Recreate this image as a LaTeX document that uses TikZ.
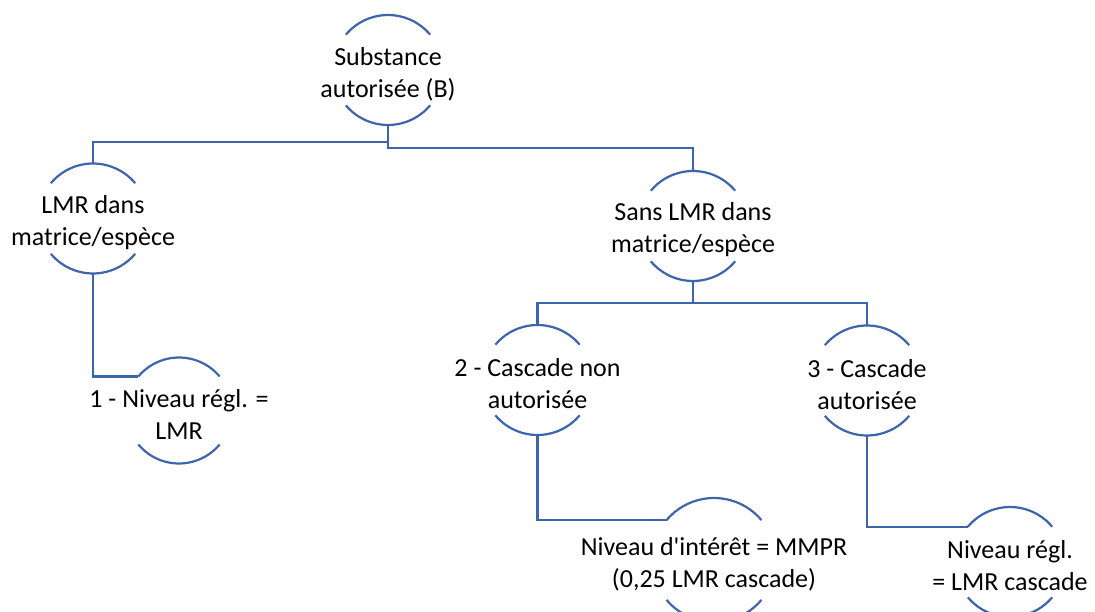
\documentclass[tikz,border=0pt]{standalone}
\usepackage{fontspec}
\setmainfont{Carlito}
\definecolor{smartblue}{RGB}{62,100,172}

\begin{document}
\begin{tikzpicture}[x=1pt,y=1pt,
  ring/.style={circle,draw=none,inner sep=0pt,outer sep=0pt,minimum size=#1},
  ring/.default=110pt,
  txt/.style={align=center,inner sep=0pt,yshift=-4pt,font=\fontsize{26}{32}\selectfont},
  rim/.style={draw=smartblue,line width=2.2pt},
  link/.style={draw=smartblue,line width=2.2pt}]
\useasboundingbox (0,0) rectangle (1095,-612);
% nodes: t-<index>L<level>
\node (t-0L0) at (388,-70) [ring, label={[txt]center:Substance\\autorisée (B)}] {};
\node (t-0L1) at (93,-218.5) [ring, label={[txt]center:LMR dans\\matrice/espèce}] {};
\node (t-1L1) at (693,-226) [ring, label={[txt]center:Sans LMR dans\\matrice/espèce}] {};
\node (t-0L2) at (179,-410.5) [ring=106pt, label={[txt]center:1 - Niveau régl. =\\LMR}] {};
\node (t-1L2) at (537.5,-380) [ring, label={[txt]center:2 - Cascade non\\autorisée}] {};
\node (t-2L2) at (867,-380.5) [ring, label={[txt]center:3 - Cascade\\autorisée}] {};
\node (t-0L3) at (714,-560) [ring=124pt, label={[txt]center:Niveau d\textquotesingle intérêt = MMPR\\(0,25 LMR cascade)}] {};
\node (t-1L3) at (1010,-562) [ring, label={[txt]center:Niveau régl.\\= LMR cascade}] {};
% arcs
\draw[rim] (t-0L0.40) arc[start angle=40,end angle=140,radius=55pt];
\draw[rim] (t-0L0.220) arc[start angle=220,end angle=320,radius=55pt];
\draw[rim] (t-0L1.40) arc[start angle=40,end angle=140,radius=55pt];
\draw[rim] (t-0L1.220) arc[start angle=220,end angle=320,radius=55pt];
\draw[rim] (t-1L1.40) arc[start angle=40,end angle=140,radius=55pt];
\draw[rim] (t-1L1.220) arc[start angle=220,end angle=320,radius=55pt];
\draw[rim] (t-0L2.40) arc[start angle=40,end angle=140,radius=53pt];
\draw[rim] (t-0L2.220) arc[start angle=220,end angle=320,radius=53pt];
\draw[rim] (t-1L2.40) arc[start angle=40,end angle=140,radius=55pt];
\draw[rim] (t-1L2.220) arc[start angle=220,end angle=320,radius=55pt];
\draw[rim] (t-2L2.40) arc[start angle=40,end angle=140,radius=55pt];
\draw[rim] (t-2L2.220) arc[start angle=220,end angle=320,radius=55pt];
\draw[rim] (t-0L3.40) arc[start angle=40,end angle=140,radius=62pt];
\draw[rim] (t-0L3.220) arc[start angle=220,end angle=320,radius=62pt];
\draw[rim] (t-1L3.40) arc[start angle=40,end angle=140,radius=55pt];
\draw[rim] (t-1L3.220) arc[start angle=220,end angle=320,radius=55pt];
% connectors
\draw[link] (t-0L0.south) -- ++(0,-17) -| (t-0L1.north);
\draw[link] (t-0L0.south) -- ++(0,-23) -| (t-1L1.north);
\draw[link] (t-0L1.south) |- (t-0L2.140);
\draw[link] (t-1L1.south) -- ++(0,-22) -| (t-1L2.north);
\draw[link] (t-1L1.south) -- ++(0,-22) -| (t-2L2.north);
\draw[link] (t-1L2.south) |- (t-0L3.140);
\draw[link] (t-2L2.south) |- (t-1L3.140);
\end{tikzpicture}
\end{document}
